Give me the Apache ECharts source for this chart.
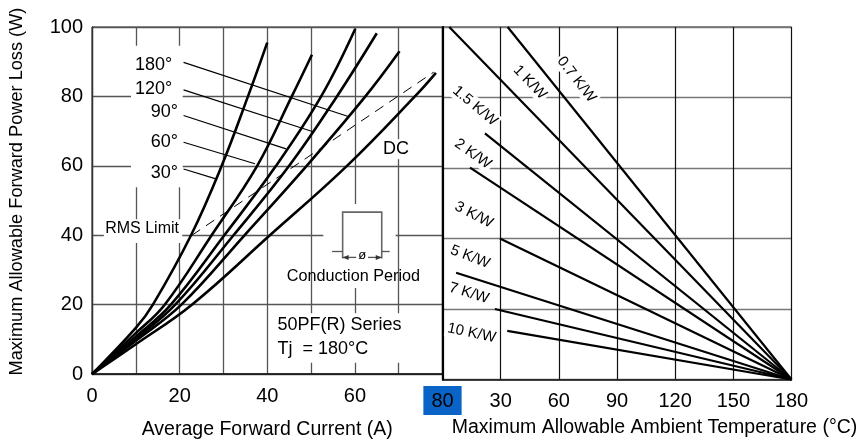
<!DOCTYPE html>
<html><head><meta charset="utf-8">
<script src="https://cdn.jsdelivr.net/npm/echarts@6/dist/echarts.min.js"></script>
<style>html,body{margin:0;padding:0;background:#fff}#c{width:864px;height:445px}</style>
</head><body><div id="c"></div>
<script>
const FONT = '"Liberation Sans", Arial, sans-serif';
// ---- tick labels ----
const xTicksLeft = [0, 20, 40, 60, 80];
const xTicksRight = [30, 60, 90, 120, 150, 180];
const yTicks = [0, 20, 40, 60, 80, 100];
// ---- left panel: power loss (W) vs average forward current (A) ----
const curve30  = [[0,0],[10,13.3],[13.9,20],[22.6,40],[29.6,60],[35.6,80],[40,95.5]];
const curve60  = [[0,0],[10,11.8],[16.6,20],[27.3,40],[37.7,60],[45.6,80],[50.2,92]];
const curve90  = [[0,0],[10,10.8],[18,20],[30.2,40],[42,60],[52.3,80],[60.1,99.5]];
const curve120 = [[0,0],[10,10.2],[19,20],[32.3,40],[45,60],[55.9,80],[65,98.2]];
const curve180 = [[0,0],[10,9.6],[20.4,20],[34.8,40],[49,60],[62.4,80],[70.2,93]];
const curveDC  = [[0,0],[10,8.6],[22.8,20],[40.6,40],[58.2,60],[73.7,80],[78.5,86.8]];
const rmsLimit = [[22.8,40],[78,87]];
const angleNames = ['180°','120°','90°','60°','30°'];
const leaderStart = [[20.9,89.8],[20.9,81.9],[20.9,74.5],[20.9,66.8],[20.9,59.1]];
const leaderEnd   = [[58.5,74.2],[50.3,69.9],[44.3,64.9],[37.2,60.6],[28.1,56.3]];
const angleLabelAt = [[18.3,89.0],[18.3,82.1],[19.6,75.5],[19.6,66.8],[19.6,58.0]];
// ---- right panel: power loss (W) vs ambient temperature (°C) ----
const rthNames = ['0.7 K/W','1 K/W','1.5 K/W','2 K/W','3 K/W','5 K/W','7 K/W','10 K/W'];
const rthStart = [[33.6,100],[3.5,100],[21.9,69.8],[14.2,60.1],[29.6,40],[7,30.3],[27,20],[33.4,13.8]];
const rthEnd = [180, 0];
const rthLabelAt = [[69.1,85.1],[45.1,84.3],[16.8,77.6],[15.7,64.0],[16.2,46.7],[14.2,34.8],[13.7,24.5],[15.0,13.2]];
const rthLabelAngle = [52,46,40,35,27,21,17,12];

const chart = echarts.init(document.getElementById('c'), null, {renderer:'canvas'});

function ln(data, gi, width, extra) {
  return Object.assign({
    type:'line', xAxisIndex:gi, yAxisIndex:gi, data:data, symbol:'none', silent:true,
    lineStyle:{color:'#000', width:width}, animation:false
  }, extra||{});
}
const series = [];
[curve30, curve60, curve90, curve120, curve180, curveDC].forEach(c => series.push(ln(c, 0, 2.6, {smooth:0.4})));
series.push(ln(rmsLimit, 0, 1, {lineStyle:{color:'#000', width:1, type:[10,7]}}));
leaderStart.forEach((s,i) => series.push(ln([s, leaderEnd[i]], 0, 1.2)));
rthStart.forEach(s => series.push(ln([s, rthEnd], 1, 2.2)));

const tickFont = {fontSize:20, color:'#000', fontFamily:FONT};
chart.setOption({
  animation:false,
  grid:[
    {left:92, right:421.5, top:27, bottom:65.5, show:true, borderColor:'#222', borderWidth:1},
    {left:442.5, right:72.5, top:27, bottom:65.5, show:true, borderColor:'#111', borderWidth:1}
  ],
  xAxis:[
    {gridIndex:0, type:'value', min:0, max:80, interval:10,
     axisLine:{show:true, lineStyle:{color:'#111', width:1.5}}, axisTick:{show:false},
     splitLine:{show:true, lineStyle:{color:'#555', width:1.3}},
     axisLabel:Object.assign({margin:12, showMaxLabel:true,
       formatter:v => v===80 ? '{hl|80}' : (xTicksLeft.indexOf(v)>=0 ? String(v) : ''),
       rich:{hl:{backgroundColor:'#0a64c8', padding:[5,8,4,8], fontSize:20, color:'#000', fontFamily:FONT}}}, tickFont),
     name:'Average Forward Current (A)', nameLocation:'middle', nameGap:38,
     nameTextStyle:{fontSize:19.5, color:'#000', fontFamily:FONT}},
    {gridIndex:1, type:'value', min:0, max:180, interval:30,
     axisLine:{show:true, lineStyle:{color:'#111', width:1.5}}, axisTick:{show:false},
     splitLine:{show:true, lineStyle:{color:'#111', width:1.2}},
     axisLabel:Object.assign({margin:12, formatter:v => xTicksRight.indexOf(v)>=0 ? String(v) : ''}, tickFont),
     name:'Maximum Allowable Ambient Temperature (°C)', nameLocation:'middle', nameGap:38,
     nameTextStyle:{fontSize:19.5, color:'#000', fontFamily:FONT, padding:[0,0,0,75]}}
  ],
  yAxis:[
    {gridIndex:0, type:'value', min:0, max:100, interval:20,
     axisLine:{show:true, lineStyle:{color:'#333', width:1.3}}, axisTick:{show:false},
     splitLine:{show:true, lineStyle:{color:'#555', width:1.3}},
     axisLabel:Object.assign({margin:9, formatter:v => yTicks.indexOf(v)>=0 ? String(v) : ''}, tickFont),
     name:'Maximum Allowable Forward Power Loss (W)', nameLocation:'middle', nameGap:66,
     nameTextStyle:{fontSize:18.2, color:'#000', fontFamily:FONT, padding:[0,0,0,18]}},
    {gridIndex:1, type:'value', min:0, max:100, interval:20,
     axisLine:{show:true, lineStyle:{color:'#000', width:2.2}}, axisTick:{show:false},
     splitLine:{show:true, lineStyle:{color:'#777', width:1.3}},
     axisLabel:{show:false}}
  ],
  series:series
});

// ---- annotations, placed from data coordinates ----
const p0 = pt => chart.convertToPixel({gridIndex:0}, pt);
const p1 = pt => chart.convertToPixel({gridIndex:1}, pt);
function whiteRect(a, b, z) {
  const A = p0(a), B = p0(b);
  return {type:'rect', z:z||1, silent:true,
    shape:{x:Math.min(A[0],B[0]), y:Math.min(A[1],B[1]), width:Math.abs(B[0]-A[0]), height:Math.abs(B[1]-A[1])},
    style:{fill:'#fff'}};
}
function txt(p, text, size, opt) {
  return Object.assign({type:'text', z:5, silent:true, x:p[0], y:p[1],
    style:Object.assign({text:text, fill:'#000', font:size+'px '+FONT, align:'center', verticalAlign:'middle'}, (opt&&opt.style)||{})},
    opt&&opt.el||{});
}
const g = [];
// angle label block
g.push(whiteRect([8.9,94.6],[20.7,53.8]));
angleNames.forEach((n,i) => g.push(txt(p0(angleLabelAt[i]), n, 18, {style:{align:'right'}})));
// RMS limit label
g.push(whiteRect([2.7,44.6],[20.6,37.8]));
g.push(txt(p0([11.43,41.9]), 'RMS Limit', 16));
// conduction period symbol
g.push(whiteRect([52.8,49.0],[69.3,24.8]));
const pulse = [[57.21,33.3],[57.21,46.67],[66.13,46.67],[66.13,33.3]].map(p0);
g.push({type:'polyline', z:5, silent:true, shape:{points:pulse}, style:{stroke:'#666', lineWidth:1.6, fill:null}});
[[[54.79,35.32],[57.21,35.32]], [[66.13,35.32],[67.95,35.32]], [[57.21,33.62],[60.3,33.62]], [[63.0,33.62],[66.13,33.62]]]
  .forEach(seg => g.push({type:'polyline', z:5, silent:true, shape:{points:seg.map(p0)}, style:{stroke:'#555', lineWidth:1.3, fill:null}}));
const aL = p0([57.21,33.62]), aR = p0([66.13,33.62]);
g.push({type:'polygon', z:5, silent:true, shape:{points:[[aL[0],aL[1]],[aL[0]+6,aL[1]-2.5],[aL[0]+6,aL[1]+2.5]]}, style:{fill:'#333'}});
g.push({type:'polygon', z:5, silent:true, shape:{points:[[aR[0],aR[1]],[aR[0]-6,aR[1]-2.5],[aR[0]-6,aR[1]+2.5]]}, style:{fill:'#333'}});
g.push(txt(p0([61.67,34.1]), 'ø', 13));
g.push(txt(p0([59.66,28.0]), 'Conduction Period', 16.2));
// series / Tj note
g.push(whiteRect([41.1,17.5],[71.3,3.3]));
g.push(txt(p0([42.35,14.0]), '50PF(R) Series', 18, {style:{align:'left'}}));
g.push(txt(p0([42.35,7.2]), 'Tj  = 180°C', 18, {style:{align:'left'}}));
// DC
g.push(txt(p0([69.37,64.8]), 'DC', 18, {style:{backgroundColor:'#fff', padding:[1,2]}}));
// thermal resistance labels
rthNames.forEach((n,i) => g.push(txt(p1(rthLabelAt[i]), n, 15, {
  el:{rotation:-rthLabelAngle[i]*Math.PI/180},
  style:{backgroundColor:'#fff', padding:[1,2], fontStyle:'italic'}})));
chart.setOption({graphic:{elements:g}});
</script></body></html>
